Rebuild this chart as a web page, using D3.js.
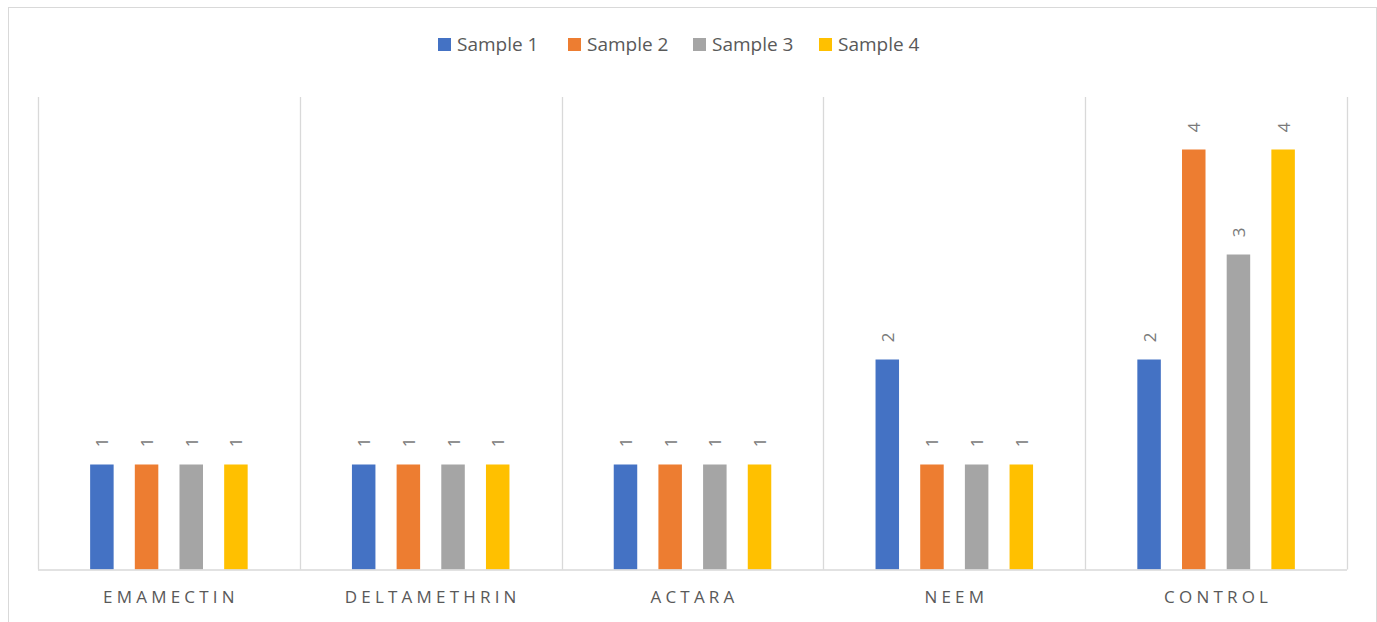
<!DOCTYPE html>
<html>
<head>
<meta charset="utf-8">
<script src="https://cdn.jsdelivr.net/npm/d3@7"></script>
<style>
  html, body { margin: 0; padding: 0; background: #fff; }
  svg { display: block; font-family: "Open Sans", Lato, sans-serif; }
</style>
</head>
<body>
<svg id="chart" width="1377" height="622"></svg>
<script>
// Treatments along the x axis
const categories = ["EMAMECTIN", "DELTAMETHRIN", "ACTARA", "NEEM", "CONTROL"];
// Series names and colours
const seriesNames = ["Sample 1", "Sample 2", "Sample 3", "Sample 4"];
const seriesColors = ["#4472C4", "#ED7D31", "#A5A5A5", "#FFC000"];
// Values per series, one per treatment
const sample1 = [1, 1, 1, 2, 2];
const sample2 = [1, 1, 1, 1, 4];
const sample3 = [1, 1, 1, 1, 3];
const sample4 = [1, 1, 1, 1, 4];
const seriesValues = [sample1, sample2, sample3, sample4];

const svg = d3.select("#chart");

// Chart frame
svg.append("rect")
  .attr("x", 8.5).attr("y", 7.5)
  .attr("width", 1368).attr("height", 640)
  .attr("fill", "#fff").attr("stroke", "#d9d9d9").attr("stroke-width", 1);

const plot = { left: 38, right: 1347, top: 97, bottom: 569.5 };

const x0 = d3.scaleBand()
  .domain(categories)
  .range([plot.left, plot.right])
  .padding(0);

const x1 = d3.scaleBand()
  .domain(seriesNames)
  .range([0, x0.bandwidth()])
  .paddingInner(0.474)
  .paddingOuter(1.167);

const y = d3.scaleLinear()
  .domain([0, 4.5])
  .range([plot.bottom, plot.top]);

// Vertical separators between categories
const edges = categories.map(c => x0(c)).concat([plot.right]);
svg.append("g").selectAll("line")
  .data(edges)
  .join("line")
  .attr("x1", d => Math.round(d) + 0.5).attr("x2", d => Math.round(d) + 0.5)
  .attr("y1", plot.top).attr("y2", plot.bottom)
  .attr("stroke", "#d9d9d9").attr("stroke-width", 1.3);

// Bars
const groups = svg.append("g").selectAll("g")
  .data(categories)
  .join("g")
  .attr("transform", c => `translate(${x0(c)},0)`);

const cells = groups.selectAll("g.cell")
  .data((c, i) => seriesNames.map((s, j) => ({ s, j, v: seriesValues[j][i] })))
  .join("g").attr("class", "cell");

cells.append("rect")
  .attr("x", d => x1(d.s))
  .attr("width", x1.bandwidth())
  .attr("y", d => y(d.v))
  .attr("height", d => y(0) - y(d.v))
  .attr("fill", d => seriesColors[d.j]);

// Value labels, rotated
cells.append("text")
  .attr("transform", d => `translate(${x1(d.s) + x1.bandwidth() / 2},${y(d.v) - 22}) rotate(-90)`)
  .attr("text-anchor", "middle")
  .attr("dominant-baseline", "central")
  .attr("font-size", 17)
  .attr("fill", "#7a7a7a")
  .text(d => d.v);

// Baseline
svg.append("line")
  .attr("x1", plot.left).attr("x2", plot.right)
  .attr("y1", plot.bottom + 0.5).attr("y2", plot.bottom + 0.5)
  .attr("stroke", "#d9d9d9").attr("stroke-width", 1.3);

// Category axis labels
svg.append("g").selectAll("text")
  .data(categories)
  .join("text")
  .attr("x", c => x0(c) + x0.bandwidth() / 2 + 2)
  .attr("y", 603)
  .attr("text-anchor", "middle")
  .attr("font-size", 17)
  .attr("letter-spacing", "4.2px")
  .attr("fill", "#595959")
  .text(c => c);

// Legend
const legendX = [438, 568, 693, 819];
const legend = svg.append("g").selectAll("g")
  .data(seriesNames)
  .join("g")
  .attr("transform", (s, i) => `translate(${legendX[i]},38)`);
legend.append("rect")
  .attr("width", 13).attr("height", 13)
  .attr("fill", (s, i) => seriesColors[i]);
legend.append("text")
  .attr("x", 19).attr("y", 13)
  .attr("font-size", 19)
  .attr("fill", "#595959")
  .text(s => s);
</script>
</body>
</html>
